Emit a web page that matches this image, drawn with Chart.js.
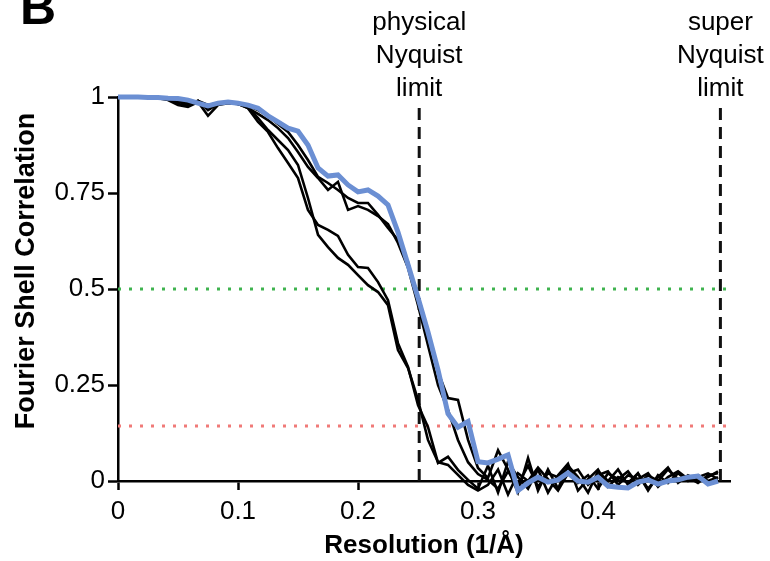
<!DOCTYPE html>
<html>
<head>
<meta charset="utf-8">
<title>FSC</title>
<script src="https://cdn.jsdelivr.net/npm/chart.js@4.4.0/dist/chart.umd.min.js"></script>
<style>
    body { margin: 0; background: #fff; }
    #wrap { width: 770px; height: 561px; }
</style>
</head>
<body>
<div id="wrap"><canvas id="fscChart" width="770" height="561"></canvas></div>
<script>
// resolution shells (1/A)
var resolution = [0, 0.0083, 0.0167, 0.025, 0.0333, 0.0417, 0.05, 0.0583, 0.0667, 0.075,
    0.0833, 0.0917, 0.1, 0.1083, 0.1167, 0.125, 0.1333, 0.1417, 0.15, 0.1583,
    0.1667, 0.175, 0.1833, 0.1917, 0.2, 0.2083, 0.2167, 0.225, 0.2333, 0.2417,
    0.25, 0.2583, 0.2667, 0.275, 0.2833, 0.2917, 0.3, 0.3083, 0.3167, 0.325,
    0.3333, 0.3417, 0.35, 0.3583, 0.3667, 0.375, 0.3833, 0.3917, 0.4, 0.4083,
    0.4167, 0.425, 0.4333, 0.4417, 0.45, 0.4583, 0.4667, 0.475, 0.4833, 0.4917,
    0.5];

// blue curve
var fscBlue = [1.000, 1.000, 1.000, 0.999, 0.999, 0.997, 0.996, 0.992, 0.984, 0.977,
    0.984, 0.987, 0.984, 0.979, 0.971, 0.951, 0.935, 0.919, 0.911, 0.875,
    0.815, 0.794, 0.797, 0.771, 0.753, 0.758, 0.742, 0.719, 0.648, 0.563,
    0.477, 0.388, 0.289, 0.175, 0.140, 0.155, 0.050, 0.047, 0.057, 0.068,
    -0.025, -0.005, 0.010, -0.003, 0.003, 0.021, 0.000, -0.003, 0.010, -0.013,
    -0.016, -0.018, -0.003, 0.003, -0.008, 0.000, 0.003, 0.010, 0.013, -0.008,
    0.000];

// black curves
var fscA = [1.000, 1.000, 0.999, 0.999, 0.997, 0.995, 0.982, 0.977, 0.990, 0.966,
    0.982, 0.987, 0.982, 0.971, 0.956, 0.940, 0.919, 0.893, 0.857, 0.818,
    0.789, 0.758, 0.779, 0.706, 0.716, 0.706, 0.690, 0.669, 0.620, 0.555,
    0.458, 0.354, 0.250, 0.185, 0.107, 0.049, 0.018, 0.003, -0.020, 0.025,
    -0.010, 0.040, -0.015, 0.020, 0.010, 0.035, -0.005, 0.015, -0.020, 0.020,
    0.005, 0.025, -0.010, 0.015, 0.000, 0.030, 0.005, 0.010, -0.005, 0.015,
    0.020];
var fscB = [1.000, 1.000, 1.000, 0.999, 0.997, 0.995, 0.990, 0.984, 0.990, 0.979,
    0.984, 0.987, 0.984, 0.977, 0.966, 0.951, 0.930, 0.909, 0.875, 0.836,
    0.792, 0.776, 0.758, 0.737, 0.724, 0.724, 0.693, 0.659, 0.628, 0.570,
    0.471, 0.380, 0.284, 0.216, 0.211, 0.107, 0.034, 0.008, 0.080, 0.030,
    -0.030, 0.060, -0.025, 0.030, -0.020, 0.040, 0.010, -0.030, 0.025, 0.000,
    0.030, -0.010, 0.020, -0.020, 0.010, 0.035, -0.005, 0.015, 0.000, 0.010,
    0.025];
var fscC = [1.000, 1.000, 1.000, 0.999, 0.997, 0.992, 0.979, 0.974, 0.987, 0.951,
    0.979, 0.984, 0.982, 0.971, 0.935, 0.909, 0.867, 0.828, 0.789, 0.706,
    0.667, 0.654, 0.638, 0.589, 0.557, 0.555, 0.518, 0.471, 0.359, 0.297,
    0.198, 0.141, 0.047, 0.063, 0.029, 0.003, -0.020, 0.040, -0.030, 0.050,
    0.010, -0.020, 0.030, -0.030, 0.015, 0.045, -0.025, 0.005, 0.030, -0.015,
    0.010, -0.005, 0.020, -0.025, 0.015, -0.005, 0.020, 0.000, 0.010, 0.020,
    0.005];
var fscD = [1.000, 1.000, 1.000, 0.999, 0.997, 0.995, 0.987, 0.982, 0.990, 0.971,
    0.982, 0.987, 0.982, 0.974, 0.945, 0.914, 0.888, 0.862, 0.823, 0.737,
    0.641, 0.609, 0.581, 0.563, 0.536, 0.510, 0.492, 0.458, 0.341, 0.294,
    0.211, 0.107, 0.049, 0.042, 0.016, -0.010, -0.025, -0.010, 0.030, -0.035,
    0.020, 0.000, 0.035, 0.005, -0.025, 0.020, 0.030, -0.010, 0.015, 0.025,
    -0.010, 0.015, 0.005, 0.020, -0.015, 0.010, 0.025, 0.005, 0.015, 0.000,
    0.010];

// thresholds and limits
var fscHalf = 0.5;
var fscGold = 0.143;
var physicalNyquist = 0.251;
var superNyquist = 0.502;
var nyquistTop = 0.984;
var xMin = 0, xMax = 0.51;
var xTicks = [0, 0.1, 0.2, 0.3, 0.4];
var yTicks = [0, 0.25, 0.5, 0.75, 1];

var physicalLabel = ["physical", "Nyquist", "limit"];
var superLabel = ["super", "Nyquist", "limit"];
var yTitle = "Fourier Shell Correlation";

var FONT = "'Liberation Sans', Arial, sans-serif";

function toPoints(ys) {
    return resolution.map(function (x, i) { return { x: x, y: ys[i] }; });
}

function curve(ys, color, width, order) {
    return {
        data: toPoints(ys),
        borderColor: color,
        borderWidth: width,
        pointRadius: 0,
        tension: 0,
        clip: false,
        order: order
    };
}

function refLine(points, color, dash, order) {
    return {
        data: points,
        borderColor: color,
        borderWidth: 3,
        borderDash: dash,
        pointRadius: 0,
        clip: false,
        order: order
    };
}

// text outside the axes: panel letter, y title, nyquist labels
var labelsPlugin = {
    id: 'labels',
    afterDraw: function (chart) {
        var ctx = chart.ctx;
        var xs = chart.scales.x;
        ctx.save();
        ctx.fillStyle = '#000';
        ctx.textBaseline = 'alphabetic';
        ctx.font = 'bold 50px ' + FONT;
        ctx.textAlign = 'left';
        ctx.fillText('B', 20, 24);

        ctx.font = '26px ' + FONT;
        ctx.textAlign = 'center';
        var px = xs.getPixelForValue(physicalNyquist);
        var sx = xs.getPixelForValue(superNyquist);
        for (var i = 0; i < 3; i++) {
            ctx.fillText(physicalLabel[i], px, 30 + i * 33);
            ctx.fillText(superLabel[i], sx, 30 + i * 33);
        }

        // y title sits a bit above the axis middle in the original
        ctx.translate(27, 271);
        ctx.rotate(-Math.PI / 2);
        ctx.font = 'bold 27px ' + FONT;
        ctx.textBaseline = 'middle';
        ctx.fillText(yTitle, 0, 0);
        ctx.restore();
    }
};

var ctxFsc = document.getElementById('fscChart').getContext('2d');
var fscChart = new Chart(ctxFsc, {
    type: 'line',
    plugins: [labelsPlugin],
    data: {
        datasets: [
            curve(fscBlue, '#6b8fd3', 5, 0),
            curve(fscA, '#000', 2.6, 1),
            curve(fscB, '#000', 2.6, 1),
            curve(fscC, '#000', 2.6, 1),
            curve(fscD, '#000', 2.6, 1),
            refLine([{ x: physicalNyquist, y: 0 }, { x: physicalNyquist, y: nyquistTop }], '#111', [12, 7], 2),
            refLine([{ x: superNyquist, y: 0 }, { x: superNyquist, y: nyquistTop }], '#111', [12, 7], 2),
            refLine([{ x: xMin, y: fscHalf }, { x: xMax, y: fscHalf }], '#3fb34f', [3, 8], 3),
            refLine([{ x: xMin, y: fscGold }, { x: xMax, y: fscGold }], '#f07a78', [3, 8], 3)
        ]
    },
    options: {
        responsive: false,
        animation: false,
        devicePixelRatio: 1,
        layout: { padding: { left: 0, top: 97, right: 40, bottom: 0 } },
        plugins: {
            legend: { display: false },
            tooltip: { enabled: false }
        },
        scales: {
            x: {
                type: 'linear',
                min: xMin,
                max: xMax,
                afterBuildTicks: function (scale) {
                    scale.ticks = xTicks.map(function (v) { return { value: v }; });
                },
                afterFit: function (scale) { scale.height = 80; },
                border: { color: '#000', width: 2.5 },
                grid: { drawOnChartArea: false, tickLength: 9, tickColor: '#000', tickWidth: 2.5 },
                ticks: {
                    color: '#000',
                    padding: 6,
                    maxRotation: 0,
                    font: { family: FONT, size: 26 },
                    callback: function (v) { return String(v); }
                },
                title: {
                    display: true,
                    text: 'Resolution (1/Å)',
                    color: '#000',
                    padding: { top: 0, bottom: 0 },
                    font: { family: FONT, size: 26, weight: 'bold' }
                }
            },
            y: {
                type: 'linear',
                min: 0,
                max: 1,
                afterBuildTicks: function (scale) {
                    scale.ticks = yTicks.map(function (v) { return { value: v }; });
                },
                afterFit: function (scale) { scale.width = 118; },
                border: { color: '#000', width: 2.5 },
                grid: { drawOnChartArea: false, tickLength: 10, tickColor: '#000', tickWidth: 2.5 },
                ticks: {
                    color: '#000',
                    padding: 3,
                    font: { family: FONT, size: 26 },
                    callback: function (v) { return String(v); }
                },
                title: { display: false }
            }
        }
    }
});
</script>
</body>
</html>
